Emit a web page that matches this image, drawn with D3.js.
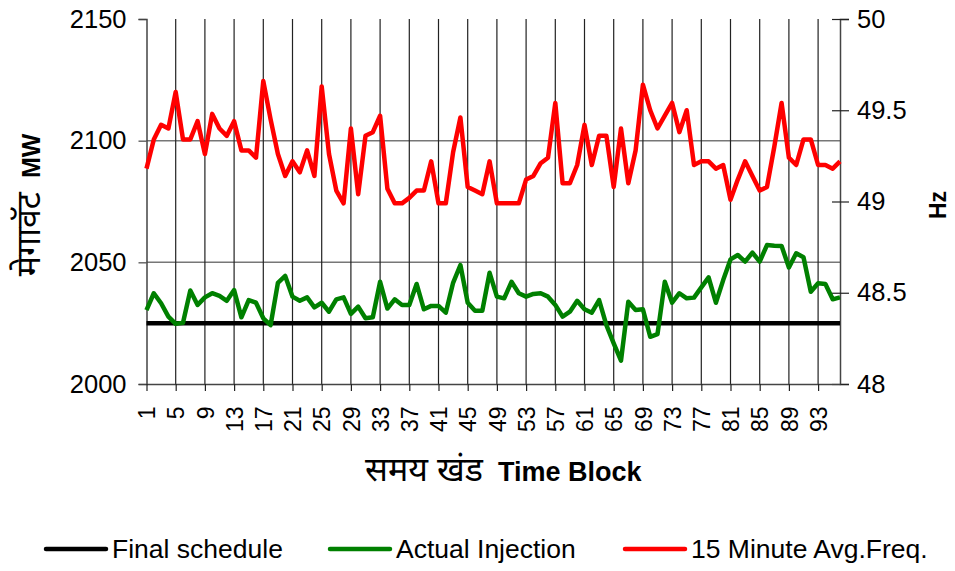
<!DOCTYPE html>
<html>
<head>
<meta charset="utf-8">
<script src="https://cdn.jsdelivr.net/npm/d3@7/dist/d3.min.js"></script>
<style>
  body { margin: 0; background: #fff; }
  svg { display: block; }
  text { font-family: "Liberation Sans", Arial, sans-serif; fill: #000; }
  .deva { font-family: "Noto Sans Devanagari", "Lohit Devanagari", "FreeSans", "Noto Sans", sans-serif; }
</style>
</head>
<body>
<div id="chart"></div>
<script>
// time blocks 1..96
const blocks = d3.range(1, 97);
const blockTicks = [1, 5, 9, 13, 17, 21, 25, 29, 33, 37, 41, 45, 49, 53, 57, 61, 65, 69, 73, 77, 81, 85, 89, 93];

const mwTicks = [2000, 2050, 2100, 2150];
const hzTicks = [48, 48.5, 49, 49.5, 50];

// Final schedule (MW)
const finalSchedule = [
  2025, 2025, 2025, 2025, 2025, 2025, 2025, 2025, 2025, 2025, 2025, 2025,
  2025, 2025, 2025, 2025, 2025, 2025, 2025, 2025, 2025, 2025, 2025, 2025,
  2025, 2025, 2025, 2025, 2025, 2025, 2025, 2025, 2025, 2025, 2025, 2025,
  2025, 2025, 2025, 2025, 2025, 2025, 2025, 2025, 2025, 2025, 2025, 2025,
  2025, 2025, 2025, 2025, 2025, 2025, 2025, 2025, 2025, 2025, 2025, 2025,
  2025, 2025, 2025, 2025, 2025, 2025, 2025, 2025, 2025, 2025, 2025, 2025,
  2025, 2025, 2025, 2025, 2025, 2025, 2025, 2025, 2025, 2025, 2025, 2025,
  2025, 2025, 2025, 2025, 2025, 2025, 2025, 2025, 2025, 2025, 2025, 2025
];

// Actual Injection (MW)
const actualInjection = [
  2030.4, 2037.3, 2033.2, 2027.7, 2024.7, 2025.2, 2038.4, 2032.5, 2035.6, 2037.3, 2036.2, 2034.2,
  2038.6, 2027.4, 2034.5, 2033.4, 2027.0, 2024.2, 2041.6, 2044.4, 2035.9, 2034.2, 2035.6, 2031.5,
  2033.4, 2029.7, 2034.8, 2035.6, 2028.8, 2031.8, 2027.0, 2027.4, 2042.0, 2031.0, 2034.8, 2032.5,
  2032.5, 2041.1, 2030.7, 2032.1, 2032.1, 2029.3, 2041.6, 2048.9, 2033.4, 2030.1, 2030.1, 2045.7,
  2035.9, 2035.2, 2042.0, 2037.3, 2035.9, 2037.0, 2037.3, 2035.9, 2032.5, 2027.7, 2029.7, 2034.2,
  2030.7, 2029.3, 2034.5, 2024.2, 2016.7, 2009.6, 2033.8, 2030.4, 2030.7, 2019.4, 2020.5, 2042.0,
  2033.4, 2037.3, 2035.2, 2035.5, 2039.7, 2043.8, 2033.4, 2042.7, 2051.2, 2053.0, 2050.3, 2054.0,
  2050.3, 2057.1, 2056.8, 2056.7, 2047.9, 2053.7, 2052.1, 2037.9, 2041.4, 2041.1, 2034.8, 2035.6
];

// 15 Minute Avg. Frequency (Hz)
const avgFreq = [
  49.18, 49.34, 49.42, 49.40, 49.60, 49.34, 49.34, 49.44, 49.26, 49.48, 49.40, 49.36,
  49.44, 49.28, 49.28, 49.24, 49.66, 49.45, 49.26, 49.14, 49.22, 49.16, 49.28, 49.14,
  49.63, 49.26, 49.06, 48.99, 49.40, 49.04, 49.36, 49.38, 49.47, 49.07, 48.99, 48.99,
  49.02, 49.06, 49.06, 49.22, 48.99, 48.99, 49.27, 49.46, 49.08, 49.06, 49.04, 49.22,
  48.99, 48.99, 48.99, 48.99, 49.12, 49.14, 49.21, 49.24, 49.54, 49.10, 49.10, 49.20,
  49.42, 49.20, 49.36, 49.36, 49.08, 49.40, 49.10, 49.28, 49.64, 49.50, 49.40, 49.47,
  49.54, 49.38, 49.50, 49.20, 49.22, 49.22, 49.18, 49.20, 49.01, 49.12, 49.22, 49.14,
  49.06, 49.08, 49.30, 49.54, 49.24, 49.20, 49.34, 49.34, 49.20, 49.20, 49.18, 49.22
];

const series = [
  { name: "Final schedule", values: finalSchedule, color: "#000000", axis: "mw" },
  { name: "Actual Injection", values: actualInjection, color: "#008000", axis: "mw" },
  { name: "15 Minute Avg.Freq.", values: avgFreq, color: "#ff0000", axis: "hz" }
];

const width = 955, height = 571;
const margin = { top: 19, right: 115, bottom: 187, left: 146.5 };

const svg = d3.select("#chart").append("svg")
  .attr("width", width)
  .attr("height", height);

const x = d3.scalePoint().domain(blocks).range([margin.left, width - margin.right]);
const yMW = d3.scaleLinear().domain([2000, 2150]).range([height - margin.bottom, margin.top]);
const yHz = d3.scaleLinear().domain([48, 50]).range([height - margin.bottom, margin.top]);

const plotBottom = height - margin.bottom;
const plotRight = width - margin.right;

// horizontal gridlines
svg.append("g")
  .selectAll("line")
  .data(mwTicks.filter(d => d > 2000 && d < 2150))
  .join("line")
  .attr("x1", margin.left).attr("x2", plotRight)
  .attr("y1", d => yMW(d)).attr("y2", d => yMW(d))
  .attr("stroke", "#777").attr("stroke-width", 1.5);

// vertical gridlines
svg.append("g")
  .selectAll("line")
  .data(blockTicks.slice(1))
  .join("line")
  .attr("x1", d => x(d)).attr("x2", d => x(d))
  .attr("y1", margin.top).attr("y2", plotBottom)
  .attr("stroke", "#222").attr("stroke-width", 1.2);

// left axis
const axL = svg.append("g")
  .attr("transform", `translate(${margin.left},0)`)
  .call(d3.axisLeft(yMW).tickValues(mwTicks).tickSize(8).tickPadding(12).tickFormat(d3.format("d")));
axL.select(".domain").attr("stroke", "#444").attr("stroke-width", 1.5);
axL.selectAll(".tick line").attr("stroke", "#444").attr("stroke-width", 1.2);
axL.selectAll(".tick text").attr("font-size", 25.5).style("font-family", "Liberation Sans, Arial, sans-serif");

// right axis
const axR = svg.append("g")
  .attr("transform", `translate(${plotRight},0)`)
  .call(d3.axisRight(yHz).tickValues(hzTicks).tickSize(9).tickPadding(8).tickFormat(d => String(d)));
axR.select(".domain").attr("stroke", "#444").attr("stroke-width", 1.5);
axR.selectAll(".tick line").attr("x1", -8).attr("stroke", "#222").attr("stroke-width", 1.2);
axR.selectAll(".tick text").attr("font-size", 25.5).style("font-family", "Liberation Sans, Arial, sans-serif");

// bottom axis
const axB = svg.append("g")
  .attr("transform", `translate(0,${plotBottom})`)
  .call(d3.axisBottom(x).tickValues(blockTicks).tickSize(7).tickSizeOuter(0));
axB.select(".domain").attr("stroke", "#444").attr("stroke-width", 1.5);
axB.selectAll(".tick line").attr("stroke", "#222").attr("stroke-width", 1.2);
axB.selectAll(".tick text")
  .attr("font-size", 23)
  .style("font-family", "Liberation Sans, Arial, sans-serif")
  .attr("transform", "rotate(-90)")
  .attr("text-anchor", "end")
  .attr("x", -22.5)
  .attr("y", 0)
  .attr("dy", "0.36em");

// lines
const lineFor = s => d3.line()
  .x((d, i) => x(blocks[i]))
  .y(d => s.axis === "mw" ? yMW(d) : yHz(d));

svg.append("g")
  .selectAll("path")
  .data(series)
  .join("path")
  .attr("d", s => lineFor(s)(s.values))
  .attr("fill", "none")
  .attr("stroke", s => s.color)
  .attr("stroke-width", 4.5)
  .attr("stroke-linejoin", "round");

// axis titles
svg.append("text")
  .attr("transform", "translate(40,205) rotate(-90)")
  .attr("text-anchor", "middle")
  .call(t => {
    t.append("tspan").attr("class", "deva").attr("font-size", 34).text("मेगावॅट");
    t.append("tspan").attr("font-size", 25).attr("font-weight", "bold").text("\u00a0\u00a0MW");
  });

svg.append("text")
  .attr("transform", "translate(946,205) rotate(-90)")
  .attr("text-anchor", "middle")
  .attr("font-size", 23)
  .attr("font-weight", "bold")
  .text("Hz");

svg.append("text")
  .attr("x", 365)
  .attr("y", 481)
  .call(t => {
    t.append("tspan").attr("class", "deva").attr("font-size", 34).text("समय खंड");
    t.append("tspan").attr("font-size", 27).attr("font-weight", "bold").text("\u00a0\u00a0Time Block");
  });

// legend
const legendX = [46, 330, 625];
const legend = svg.append("g")
  .selectAll("g")
  .data(series)
  .join("g")
  .attr("transform", (d, i) => `translate(${legendX[i]},549)`);
legend.append("line")
  .attr("x1", 0).attr("x2", 60)
  .attr("stroke", d => d.color)
  .attr("stroke-width", 4.5)
  .attr("stroke-linecap", "round");
legend.append("text")
  .attr("x", 66)
  .attr("dy", "0.35em")
  .attr("font-size", 26.5)
  .text(d => d.name);
</script>
</body>
</html>
